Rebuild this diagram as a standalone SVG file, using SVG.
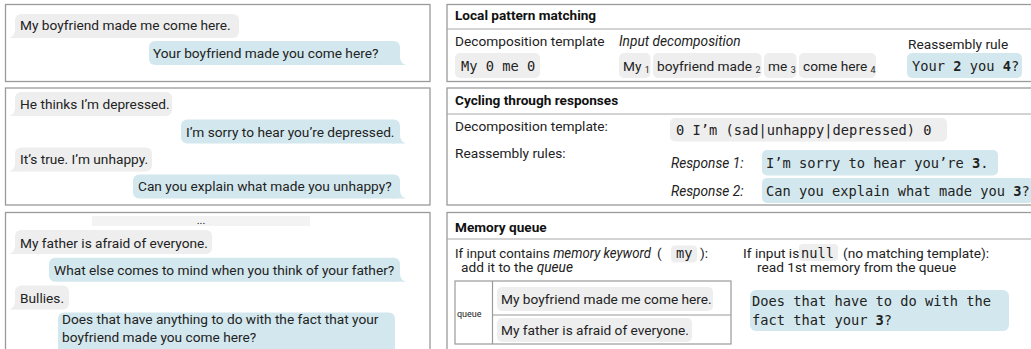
<svg xmlns="http://www.w3.org/2000/svg" width="1031" height="349" viewBox="0 0 1031 349">
<style>
.panel{fill:#fff;stroke:#9a9a9a;stroke-width:1.3}
.sep{stroke:#a8a8a8;stroke-width:1.2}
.t{font-family:Roboto,"Liberation Sans",sans-serif;font-size:13.7px;fill:#222}
.h{font-family:Roboto,"Liberation Sans",sans-serif;font-size:13.6px;font-weight:bold;fill:#111}
.it{font-style:italic}
.m{font-family:"DejaVu Sans Mono","Liberation Mono",monospace;font-size:13.7px;fill:#222}
.b{font-weight:bold}
.gray{fill:#eeeeee}
.blue{fill:#d3e8ee}
.sub{font-size:9px}
.small{font-family:Roboto,"Liberation Sans",sans-serif;font-size:9px;fill:#222}
.tbl{fill:none;stroke:#9a9a9a;stroke-width:1.2}
</style>
<defs>
<path id="tailL" d="M0,-10 C0,-5 -1,-1.5 -6,0 L8,0 Z"/>
<path id="tailR" d="M0,-10 C0,-5 1,-1.5 6,0 L-8,0 Z"/>
</defs>
<rect width="1031" height="349" fill="#fff"/>

<!-- Left panel 1 -->
<g id="chat1">
<rect class="panel" x="5.5" y="4.5" width="424.5" height="77"/>
<g id="c1m1">
<rect class="gray" x="15" y="14" width="224" height="24" rx="6"/>
<use href="#tailL" x="15" y="38" class="gray"/>
<text class="t" x="20" y="30">My boyfriend made me come here.</text>
</g>
<g id="c1m2">
<rect class="blue" x="149" y="41" width="251" height="24" rx="6"/>
<use href="#tailR" x="400" y="65" class="blue"/>
<text class="t" x="153" y="58">Your boyfriend made you come here?</text>
</g>
</g>

<!-- Left panel 2 -->
<g id="chat2">
<rect class="panel" x="5.5" y="88" width="424.5" height="117"/>
<g id="c2m1">
<rect class="gray" x="15" y="92" width="157" height="24" rx="6"/>
<use href="#tailL" x="15" y="116" class="gray"/>
<text class="t" x="20" y="108.5">He thinks I’m depressed.</text>
</g>
<g id="c2m2">
<rect class="blue" x="181" y="119.5" width="219" height="24" rx="6"/>
<use href="#tailR" x="400" y="143.5" class="blue"/>
<text class="t" x="186" y="136.5">I’m sorry to hear you’re depressed.</text>
</g>
<g id="c2m3">
<rect class="gray" x="15" y="147.5" width="137" height="24" rx="6"/>
<use href="#tailL" x="15" y="171.5" class="gray"/>
<text class="t" x="20" y="164.3">It’s true. I’m unhappy.</text>
</g>
<g id="c2m4">
<rect class="blue" x="133" y="174.5" width="267" height="24" rx="6"/>
<use href="#tailR" x="400" y="198.5" class="blue"/>
<text class="t" x="138" y="191">Can you explain what made you unhappy?</text>
</g>
</g>

<!-- Left panel 3 -->
<g id="chat3">
<rect class="panel" x="5.5" y="212.5" width="424.5" height="150"/>
<g id="c3dots">
<rect x="92" y="216" width="218" height="10" fill="#f3f3f3"/>
<text class="t" x="201" y="224" text-anchor="middle" style="font-size:11px">...</text>
</g>
<g id="c3m1">
<rect class="gray" x="15" y="230" width="197" height="24" rx="6"/>
<use href="#tailL" x="15" y="254" class="gray"/>
<text class="t" x="20" y="247.5">My father is afraid of everyone.</text>
</g>
<g id="c3m2">
<rect class="blue" x="49" y="257.7" width="351" height="24" rx="6"/>
<use href="#tailR" x="400" y="281.7" class="blue"/>
<text class="t" x="54" y="275">What else comes to mind when you think of your father?</text>
</g>
<g id="c3m3">
<rect class="gray" x="15" y="285.5" width="54" height="24" rx="6"/>
<use href="#tailL" x="15" y="309.5" class="gray"/>
<text class="t" x="20" y="302.5">Bullies.</text>
</g>
<g id="c3m4">
<rect class="blue" x="58" y="312.5" width="337" height="42" rx="6"/>
<text class="t" x="62" y="324">Does that have anything to do with the fact that your</text>
<text class="t" x="62" y="341.5">boyfriend made you come here?</text>
</g>
</g>

<!-- Right panel A -->
<g id="local-pattern">
<rect class="panel" x="447" y="4.5" width="600" height="77"/>
<line class="sep" x1="447" y1="29" x2="1031" y2="29"/>
<text class="h" x="455" y="20">Local pattern matching</text>
<text class="t" x="455" y="46">Decomposition template</text>
<text class="t it" x="619" y="46">Input decomposition</text>
<text class="t" x="908" y="49">Reassembly rule</text>
<rect class="gray" x="455" y="53" width="85" height="25" rx="5"/>
<text class="m" x="461" y="71">My 0 me 0</text>
<rect class="gray" x="619" y="53" width="31.5" height="25" rx="5"/>
<text class="t" x="623" y="71">My <tspan class="sub" dy="1.5">1</tspan></text>
<rect class="gray" x="653" y="53" width="108.5" height="25" rx="5"/>
<text class="t" x="657" y="71">boyfriend made <tspan class="sub" dy="1.5">2</tspan></text>
<rect class="gray" x="764" y="53" width="32.5" height="25" rx="5"/>
<text class="t" x="768" y="71">me <tspan class="sub" dy="1.5">3</tspan></text>
<rect class="gray" x="799" y="53" width="77" height="25" rx="5"/>
<text class="t" x="803" y="71">come here <tspan class="sub" dy="1.5">4</tspan></text>
<rect class="blue" x="907" y="53" width="115" height="25" rx="5"/>
<text class="m" x="912" y="71">Your <tspan class="b">2</tspan> you <tspan class="b">4</tspan>?</text>
</g>

<!-- Right panel B -->
<g id="cycling">
<rect class="panel" x="447" y="88" width="600" height="117"/>
<line class="sep" x1="447" y1="114" x2="1031" y2="114"/>
<text class="h" x="455" y="105">Cycling through responses</text>
<text class="t" x="455" y="131">Decomposition template:</text>
<rect class="gray" x="670" y="118" width="277" height="23.5" rx="5"/>
<text class="m" x="676" y="134.5">0 I’m (sad|unhappy|depressed) 0</text>
<text class="t" x="455" y="158">Reassembly rules:</text>
<text class="t it" x="671" y="168">Response 1:</text>
<rect class="blue" x="762" y="150" width="236" height="25.5" rx="5"/>
<text class="m" x="766" y="168">I’m sorry to hear you’re <tspan class="b">3</tspan>.</text>
<text class="t it" x="671" y="195.5">Response 2:</text>
<rect class="blue" x="762" y="178" width="272" height="25" rx="5"/>
<text class="m" x="766" y="195.5">Can you explain what made you <tspan class="b">3</tspan>?</text>
</g>

<!-- Right panel C -->
<g id="memory">
<rect class="panel" x="447" y="212.5" width="600" height="150"/>
<line class="sep" x1="447" y1="239" x2="1031" y2="239"/>
<text class="h" x="455" y="231.5">Memory queue</text>
<text class="t" x="455" y="258" textLength="196" lengthAdjust="spacingAndGlyphs">If input contains <tspan class="it">memory keyword</tspan></text>
<text class="t" x="657" y="258">(</text>
<rect class="gray" x="671" y="245.5" width="26" height="17" rx="4"/>
<text class="m" x="676" y="258">my</text>
<text class="t" x="700" y="258">):</text>
<text class="t" x="461" y="272">add it to the <tspan class="it">queue</tspan></text>
<g id="queue">
<rect class="tbl" x="455" y="281" width="276" height="63"/>
<line class="tbl" x1="492.5" y1="281" x2="492.5" y2="344"/>
<line class="tbl" x1="492.5" y1="315" x2="731" y2="315"/>
<text class="small" x="457" y="317">queue</text>
<rect class="gray" x="497" y="287" width="216" height="24" rx="5"/>
<text class="t" x="501" y="304">My boyfriend made me come here.</text>
<rect class="gray" x="497" y="318" width="195" height="24" rx="5"/>
<text class="t" x="501" y="335">My father is afraid of everyone.</text>
</g>
<text class="t" x="743" y="258">If input is</text>
<rect class="gray" x="799" y="244" width="39" height="17" rx="4"/>
<text class="m" x="801" y="258">null</text>
<text class="t" x="843" y="258">(no matching template):</text>
<text class="t" x="757" y="272">read 1st memory from the queue</text>
<rect class="blue" x="750" y="290" width="259" height="41" rx="6"/>
<text class="m" x="752" y="306">Does that have to do with the</text>
<text class="m" x="752" y="324.5">fact that your <tspan class="b">3</tspan>?</text>
</g>
</svg>
